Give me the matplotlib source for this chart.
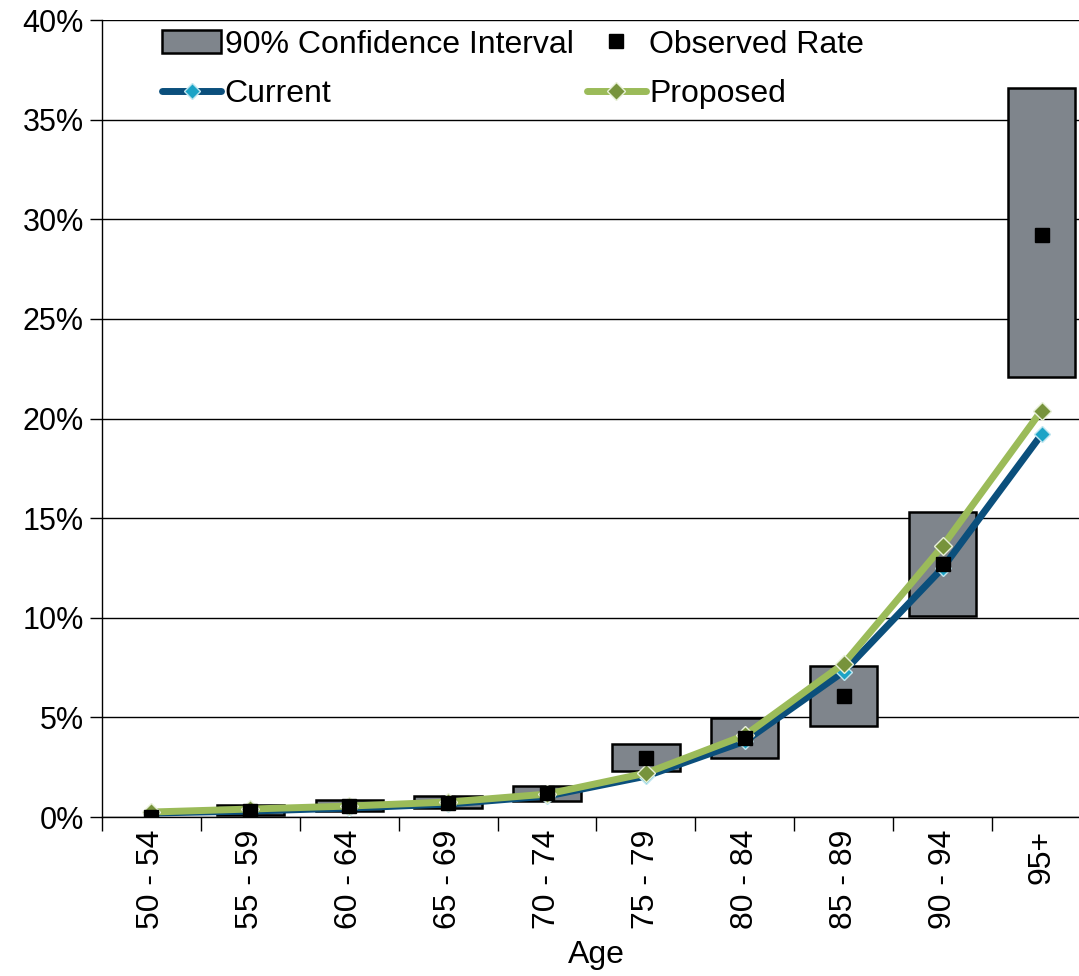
import matplotlib
matplotlib.use("Agg")
import matplotlib.pyplot as plt
import numpy as np
from matplotlib.patches import Rectangle
from matplotlib.lines import Line2D
from matplotlib.ticker import FuncFormatter, MultipleLocator

plt.rcParams['font.family'] = ['Liberation Sans', 'DejaVu Sans']

# Age bands and rates (in %)
ages = ['50 - 54', '55 - 59', '60 - 64', '65 - 69', '70 - 74',
        '75 - 79', '80 - 84', '85 - 89', '90 - 94', '95+']
observed = [0.0, 0.3, 0.55, 0.7, 1.2, 2.95, 3.95, 6.05, 12.7, 29.2]
ci_low = [0.0, 0.1, 0.3, 0.45, 0.8, 2.3, 2.95, 4.55, 10.1, 22.1]
ci_high = [0.0, 0.6, 0.85, 1.05, 1.55, 3.65, 4.95, 7.6, 15.3, 36.6]
current = [0.2, 0.3, 0.45, 0.65, 1.05, 2.05, 3.8, 7.3, 12.5, 19.2]
proposed = [0.25, 0.4, 0.55, 0.75, 1.15, 2.2, 4.1, 7.7, 13.6, 20.4]

box_color = '#7f858c'
cur_color = '#0b4f7c'
cur_marker = '#1ba3c6'
prop_color = '#9bbb59'
prop_marker = '#77933c'

fig = plt.figure(figsize=(10.79, 9.76), dpi=100)
ax = fig.add_axes([0.0945, 0.1629, 0.9166, 0.8166])

x = np.arange(len(ages))
width = 0.68

# confidence interval boxes
for xi, lo, hi in zip(x, ci_low, ci_high):
    if hi > lo:
        ax.add_patch(Rectangle((xi - width / 2, lo), width, hi - lo,
                               facecolor=box_color, edgecolor='black',
                               linewidth=1.8, zorder=2))

cur_style = dict(color=cur_color, linewidth=5, marker='D', markersize=8,
                 markerfacecolor=cur_marker, markeredgecolor='#bfe6f0',
                 markeredgewidth=1, solid_capstyle='round')
prop_style = dict(color=prop_color, linewidth=5, marker='D', markersize=9,
                  markerfacecolor=prop_marker, markeredgecolor='#e8f0d8',
                  markeredgewidth=1, solid_capstyle='round')

ax.plot(x, current, zorder=3, **cur_style)
ax.plot(x, proposed, zorder=4, **prop_style)
ax.plot(x, observed, linestyle='none', marker='s', markersize=10,
        color='black', zorder=5)

ax.set_xlim(-0.5, len(ages) - 0.5)
ax.set_ylim(0, 40)
ax.yaxis.set_major_locator(MultipleLocator(5))
ax.yaxis.set_major_formatter(FuncFormatter(lambda v, p: f'{v:.0f}%'))
ax.grid(axis='y', color='black', linewidth=1)
ax.set_axisbelow(True)

ax.set_xticks(x)
ax.set_xticklabels(ages, rotation=90)
ax.set_xticks(np.arange(len(ages) + 1) - 0.5, minor=True)
ax.tick_params(axis='x', which='major', length=0, pad=9, labelsize=23)
ax.tick_params(axis='x', which='minor', length=10, width=1, direction='out')
ax.tick_params(axis='y', length=9, width=1, direction='out', labelsize=22, pad=4)

for s in ['top', 'right']:
    ax.spines[s].set_visible(False)
ax.spines['left'].set_linewidth(1)
ax.spines['bottom'].set_linewidth(1)

ax.set_xlabel('Age', fontsize=23, labelpad=8)

handles = [
    Rectangle((0, 0), 1, 1, facecolor=box_color, edgecolor='black', linewidth=1.8),
    Line2D([], [], **cur_style),
    Line2D([], [], linestyle='none', marker='s', markersize=10, color='black'),
    Line2D([], [], **prop_style),
]
labels = ['90% Confidence Interval', 'Current', 'Observed Rate', 'Proposed']
ax.legend(handles, labels, ncol=2, loc='upper left', bbox_to_anchor=(0.061, 0.988),
          frameon=False, fontsize=23, handlelength=1.85, handletextpad=0.1,
          columnspacing=0.42, labelspacing=0.62, borderpad=0, borderaxespad=0)

fig.savefig('out.png', dpi=100)
